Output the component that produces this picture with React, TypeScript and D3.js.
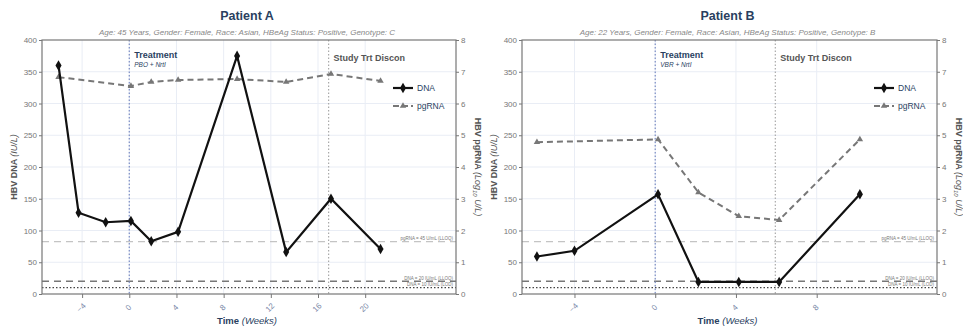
import React, { useEffect, useRef } from 'react';
import * as d3 from 'd3';

// weeks since treatment start
const weeksA = [-6, -4.3, -2, 0.14, 1.86, 4.14, 9.14, 13.3, 17.1, 21.3];
const dnaA = [360, 128, 113, 115, 83, 98, 375, 66, 150, 71];
const pgWeeksA = [-6, 0.14, 1.86, 4.14, 9.14, 13.3, 17.1, 21.3];
const pgA = [6.83, 6.55, 6.68, 6.74, 6.77, 6.68, 6.93, 6.71];

const weeksB = [-5.86, -4, 0.14, 2.14, 4.14, 6.14, 10.14];
const dnaB = [59, 68, 157, 19, 19, 19, 157];
const pgWeeksB = [-5.86, 0.14, 2.14, 4.14, 6.14, 10.14];
const pgB = [4.78, 4.87, 3.2, 2.45, 2.33, 4.87];

const dnaTicks = [0, 50, 100, 150, 200, 250, 300, 350, 400];
const pgTicks = [0, 1, 2, 3, 4, 5, 6, 7, 8];
const xTicksA = [-4, 0, 4, 8, 12, 16, 20];
const xTicksB = [-4, 0, 4, 8];

const FONT = '"Liberation Sans", Arial, sans-serif';
const NAVY = '#2a3f5f';

type PanelCfg = {
  title: string;
  subtitle: string;
  drug: string;
  left: number;
  right: number;
  xDomain: [number, number];
  xTicks: number[];
  discon: number;
  weeks: number[];
  dna: number[];
  pgWeeks: number[];
  pg: number[];
};

const panels: PanelCfg[] = [
  {
    title: 'Patient A',
    subtitle: 'Age: 45 Years, Gender: Female, Race: Asian, HBeAg Status: Positive, Genotype: C',
    drug: 'PBO + NrtI',
    left: 42, right: 456, xDomain: [-7.4, 27.7], xTicks: xTicksA, discon: 16.9,
    weeks: weeksA, dna: dnaA, pgWeeks: pgWeeksA, pg: pgA,
  },
  {
    title: 'Patient B',
    subtitle: 'Age: 22 Years, Gender: Female, Race: Asian, HBeAg Status: Positive, Genotype: B',
    drug: 'VBR + NrtI',
    left: 522, right: 937, xDomain: [-6.6, 13.96], xTicks: xTicksB, discon: 5.95,
    weeks: weeksB, dna: dnaB, pgWeeks: pgWeeksB, pg: pgB,
  },
];

const App = () => {
  const svgRef = useRef<SVGSVGElement>(null);

  useEffect(() => {
    const svg = d3.select(svgRef.current);
    svg.selectAll('*').remove();
    const top = 40, bottom = 294;

    panels.forEach(p => {
      const g = svg.append('g').style('font-family', FONT);
      const x = d3.scaleLinear().domain(p.xDomain).range([p.left, p.right]);
      const y = d3.scaleLinear().domain([0, 400]).range([bottom, top]);
      const y2 = d3.scaleLinear().domain([0, 8]).range([bottom, top]);
      const cx = (p.left + p.right) / 2 - 2;

      // titles
      g.append('text').attr('x', cx).attr('y', 20).attr('text-anchor', 'middle')
        .attr('fill', NAVY).style('font-size', '12.5px').style('font-weight', 'bold').text(p.title);
      g.append('text').attr('x', cx).attr('y', 35).attr('text-anchor', 'middle')
        .attr('fill', '#888').style('font-size', '8px').style('font-style', 'italic').text(p.subtitle);

      // grid
      g.selectAll('.hg').data(dnaTicks.slice(1, -1)).enter().append('line')
        .attr('x1', p.left).attr('x2', p.right).attr('y1', d => y(d)).attr('y2', d => y(d))
        .attr('stroke', '#e9edf5').attr('stroke-width', 1);
      g.selectAll('.vg').data(p.xTicks).enter().append('line')
        .attr('x1', d => x(d)).attr('x2', d => x(d)).attr('y1', top).attr('y2', bottom)
        .attr('stroke', '#e9edf5').attr('stroke-width', 1);

      // reference lines
      const refs = [
        { v: 82.6, color: '#c4c4c4', dash: '7,5', w: 1.2, label: 'pgRNA = 45 U/mL (LLOQ)' },
        { v: 20, color: '#777', dash: '7,5', w: 1.5, label: 'DNA = 20 IU/mL (LLOQ)' },
        { v: 10, color: '#444', dash: '1.5,2', w: 1.4, label: 'DNA = 10 IU/mL (LOD)' },
      ];
      refs.forEach(r => {
        g.append('line').attr('x1', p.left).attr('x2', p.right).attr('y1', y(r.v)).attr('y2', y(r.v))
          .attr('stroke', r.color).attr('stroke-dasharray', r.dash).attr('stroke-width', r.w);
        g.append('text').attr('x', p.right - 3).attr('y', y(r.v) - 1.5)
          .attr('text-anchor', 'end').attr('fill', '#777').style('font-size', '4.5px').text(r.label);
      });

      // vertical event lines
      g.append('line').attr('x1', x(0)).attr('x2', x(0)).attr('y1', top).attr('y2', bottom)
        .attr('stroke', '#7b8cc4').attr('stroke-dasharray', '1.5,2').attr('stroke-width', 1.2);
      g.append('line').attr('x1', x(p.discon)).attr('x2', x(p.discon)).attr('y1', top).attr('y2', bottom)
        .attr('stroke', '#aaa').attr('stroke-dasharray', '1.5,2').attr('stroke-width', 1.2);
      g.append('text').attr('x', x(0) + 5).attr('y', 58).attr('fill', NAVY)
        .style('font-size', '9px').style('font-weight', 'bold').text('Treatment');
      g.append('text').attr('x', x(0) + 5).attr('y', 67).attr('fill', NAVY)
        .style('font-size', '6.5px').style('font-style', 'italic').text(p.drug);
      g.append('text').attr('x', x(p.discon) + 5).attr('y', 61).attr('fill', '#555')
        .style('font-size', '9px').style('font-weight', 'bold').text('Study Trt Discon');

      // frame
      g.append('rect').attr('x', p.left).attr('y', top).attr('width', p.right - p.left)
        .attr('height', bottom - top).attr('fill', 'none').attr('stroke', '#777').attr('stroke-width', 1.2);

      // axes
      const axL = g.append('g').attr('transform', `translate(${p.left},0)`)
        .call(d3.axisLeft(y).tickValues(dnaTicks).tickSize(3).tickPadding(2));
      const axR = g.append('g').attr('transform', `translate(${p.right},0)`)
        .call(d3.axisRight(y2).tickValues(pgTicks).tickSize(3).tickPadding(2));
      const axB = g.append('g').attr('transform', `translate(0,${bottom})`)
        .call(d3.axisBottom(x).tickValues(p.xTicks).tickSize(4).tickPadding(6));
      [axL, axR, axB].forEach(a => {
        a.select('.domain').remove();
        a.selectAll('line').attr('stroke', '#777');
        a.selectAll('text').attr('fill', '#777').style('font-size', '8px').style('font-family', FONT);
      });
      axB.selectAll('text').attr('fill', '#7a88a8').attr('text-anchor', 'middle')
        .attr('transform', function () {
          const t = d3.select(this as SVGTextElement);
          return `rotate(-45,0,${+t.attr('y') + 5})`;
        });

      // axis titles
      const lt = g.append('text').attr('transform', `translate(${p.left - 25},${(top + bottom) / 2}) rotate(-90)`)
        .attr('text-anchor', 'middle').attr('fill', '#555').style('font-size', '9px');
      lt.append('tspan').style('font-weight', 'bold').text('HBV DNA ');
      lt.append('tspan').style('font-style', 'italic').text('(IU/L)');
      const rt = g.append('text').attr('transform', `translate(${p.right + 18.5},${(top + bottom) / 2}) rotate(90)`)
        .attr('text-anchor', 'middle').attr('fill', '#555').style('font-size', '9px');
      rt.append('tspan').style('font-weight', 'bold').text('HBV pgRNA ');
      rt.append('tspan').style('font-style', 'italic').text('(Log');
      rt.append('tspan').style('font-style', 'italic').style('font-size', '6px').attr('dy', 2).text('10');
      rt.append('tspan').style('font-style', 'italic').attr('dy', -2).text(' U/L)');
      const bt = g.append('text').attr('x', cx).attr('y', 324).attr('text-anchor', 'middle')
        .attr('fill', NAVY).style('font-size', '9.5px');
      bt.append('tspan').style('font-weight', 'bold').text('Time ');
      bt.append('tspan').style('font-style', 'italic').text('(Weeks)');

      // pgRNA series
      const pgData = p.pgWeeks.map((w, i) => ({ w, v: p.pg[i] }));
      const pgLine = d3.line<{ w: number; v: number }>().x(d => x(d.w)).y(d => y2(d.v));
      g.append('path').datum(pgData).attr('d', pgLine).attr('fill', 'none')
        .attr('stroke', '#777').attr('stroke-width', 2).attr('stroke-dasharray', '6,4');
      const tri = d3.symbol().type(d3.symbolTriangle).size(18);
      g.selectAll('.tri').data(pgData).enter().append('path')
        .attr('d', tri).attr('transform', d => `translate(${x(d.w)},${y2(d.v)})`).attr('fill', '#777');

      // DNA series
      const dnaData = p.weeks.map((w, i) => ({ w, v: p.dna[i] }));
      const dnaLine = d3.line<{ w: number; v: number }>().x(d => x(d.w)).y(d => y(d.v));
      g.append('path').datum(dnaData).attr('d', dnaLine).attr('fill', 'none')
        .attr('stroke', '#111').attr('stroke-width', 2.2);
      const dia = d3.symbol().type(d3.symbolDiamond).size(32);
      g.selectAll('.dia').data(dnaData).enter().append('path')
        .attr('d', dia).attr('transform', d => `translate(${x(d.w)},${y(d.v)})`).attr('fill', '#111');

      // legend
      const lx = p.right - 63;
      g.append('line').attr('x1', lx).attr('x2', lx + 20).attr('y1', 88).attr('y2', 88)
        .attr('stroke', '#111').attr('stroke-width', 2.2);
      g.append('path').attr('d', dia).attr('transform', `translate(${lx + 10},88)`).attr('fill', '#111');
      g.append('text').attr('x', lx + 24).attr('y', 91).attr('fill', NAVY).style('font-size', '8.5px').text('DNA');
      g.append('line').attr('x1', lx).attr('x2', lx + 20).attr('y1', 106).attr('y2', 106)
        .attr('stroke', '#777').attr('stroke-width', 2).attr('stroke-dasharray', '6,3');
      g.append('path').attr('d', tri).attr('transform', `translate(${lx + 10},106)`).attr('fill', '#777');
      g.append('text').attr('x', lx + 24).attr('y', 109).attr('fill', NAVY).style('font-size', '8.5px').text('pgRNA');
    });
  }, []);

  return (
    <svg ref={svgRef} width={963} height={327}
      style={{ position: 'absolute', left: 0, top: 0, background: '#fff' }} />
  );
};

export default App;
